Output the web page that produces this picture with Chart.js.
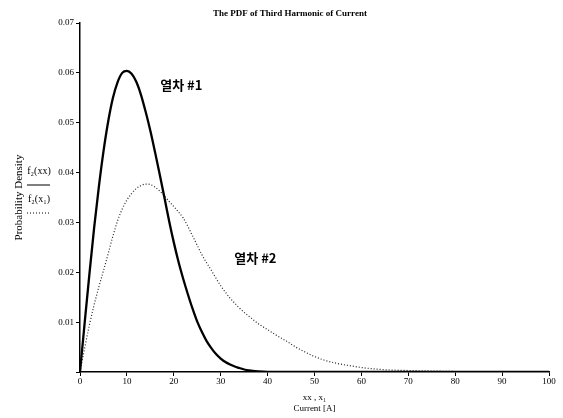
<!DOCTYPE html>
<html>
<head>
<meta charset="utf-8">
<script src="https://cdn.jsdelivr.net/npm/chart.js@4.4.1/dist/chart.umd.min.js"></script>
<style>
  body { margin: 0; background: #fff; }
  #wrap { width: 563px; height: 418px; }
</style>
</head>
<body>
<div id="wrap"><canvas id="pdfChart" width="563" height="418"></canvas></div>
<script>
// train #1 : current [A] and probability density
const train1Current = [0, 1, 2, 3, 4, 5, 6, 7, 8, 9, 10, 11, 12, 13, 14, 15, 16, 17, 18, 19, 20,
  21, 22, 23, 24, 25, 26, 27, 28, 29, 30, 31, 32, 33, 34, 35, 36, 38, 40, 50, 60, 70, 80, 90, 100];
const train1Pdf = [0, 0.0099, 0.0196, 0.0288, 0.0370, 0.0442, 0.0502, 0.0549, 0.0581, 0.0600, 0.0604,
  0.0598, 0.0582, 0.0556, 0.0522, 0.0484, 0.0441, 0.0396, 0.0350, 0.0303, 0.0260,
  0.0221, 0.0187, 0.0156, 0.0127, 0.0101, 0.0080, 0.0062, 0.0048, 0.0036, 0.0027,
  0.0020, 0.0015, 0.0011, 0.0008, 0.0005, 0.0003, 0.0001, 0, 0, 0, 0, 0, 0, 0];

// train #2
const train2Current = [0, 1, 2, 3, 4, 5, 6, 7, 8, 9, 10, 11, 12, 13, 14, 15, 16, 17, 18, 19, 20,
  21, 22, 23, 24, 25, 26, 27, 28, 29, 30, 31, 32, 33, 34, 36, 38, 40, 42, 44, 46, 48, 50, 52, 54,
  56, 58, 60, 63, 66, 70, 75, 80, 90, 100];
const train2Pdf = [0, 0.0048, 0.0094, 0.0134, 0.0170, 0.0203, 0.0237, 0.0272, 0.0303, 0.0327, 0.0345,
  0.0358, 0.0368, 0.0374, 0.0377, 0.0376, 0.0371, 0.0363, 0.0353, 0.0342, 0.0332,
  0.0321, 0.0309, 0.0292, 0.0273, 0.0254, 0.0235, 0.0219, 0.0204, 0.0188, 0.0173,
  0.0160, 0.0148, 0.0138, 0.0128, 0.0112, 0.0097, 0.0085, 0.0073, 0.0062, 0.0050, 0.0040,
  0.0031, 0.0024, 0.0019, 0.0015, 0.0012, 0.0009, 0.0006, 0.0004, 0.0003, 0.0002, 0.0001, 0, 0];

const seriesNames = ['열차 #1', '열차 #2'];
const chartTitle = 'The PDF of Third Harmonic of Current';
const xTitle = ['xx , x\u2081', 'Current [A]'];
const yTitle = 'Probability Density';
const legendKeys = ['f\u2082(xx)', 'f\u2082(x\u2081)'];

const serif = '"Liberation Serif", "DejaVu Serif", serif';

function toPoints(xs, ys) {
  return xs.map((x, i) => ({ x: x, y: ys[i] }));
}

// title, the little key on the left and the train labels next to the curves
const notes = {
  id: 'notes',
  afterDraw(chart) {
    const ctx = chart.ctx;
    const sx = chart.scales.x;
    const sy = chart.scales.y;
    ctx.save();
    ctx.fillStyle = '#000';
    ctx.textAlign = 'center';
    ctx.textBaseline = 'middle';

    ctx.font = 'bold 9px ' + serif;
    ctx.fillText(chartTitle, 290, 14);

    ctx.font = '10px ' + serif;
    ctx.fillText(legendKeys[0], 39, 171);
    ctx.fillText(legendKeys[1], 39, 199);
    ctx.strokeStyle = '#000';
    ctx.lineWidth = 1;
    ctx.beginPath();
    ctx.moveTo(27, 185);
    ctx.lineTo(50, 185);
    ctx.stroke();
    ctx.setLineDash([1, 2]);
    ctx.beginPath();
    ctx.moveTo(27, 213);
    ctx.lineTo(50, 213);
    ctx.stroke();
    ctx.setLineDash([]);

    ctx.font = 'bold 13px "Noto Sans CJK KR", sans-serif';
    ctx.fillText(seriesNames[0], sx.getPixelForValue(21.6), sy.getPixelForValue(0.0576));
    ctx.fillText(seriesNames[1], sx.getPixelForValue(37.4), sy.getPixelForValue(0.0228));
    ctx.restore();
  }
};

new Chart(document.getElementById('pdfChart'), {
  type: 'line',
  data: {
    datasets: [
      {
        label: seriesNames[0],
        data: toPoints(train1Current, train1Pdf),
        borderColor: '#000',
        borderWidth: 2.3,
        pointRadius: 0,
        cubicInterpolationMode: 'monotone',
        fill: false
      },
      {
        label: seriesNames[1],
        data: toPoints(train2Current, train2Pdf),
        borderColor: '#222',
        borderWidth: 1.2,
        borderDash: [1, 2],
        pointRadius: 0,
        cubicInterpolationMode: 'monotone',
        fill: false
      }
    ]
  },
  options: {
    responsive: false,
    animation: false,
    layout: { padding: { top: 23, right: 14, bottom: 0, left: 0 } },
    plugins: {
      legend: { display: false },
      tooltip: { enabled: false }
    },
    scales: {
      x: {
        type: 'linear',
        min: 0,
        max: 100,
        afterFit(scale) { scale.height = 46; },
        border: { color: '#000', width: 1.5 },
        grid: { drawOnChartArea: false, color: '#000', tickLength: 4 },
        ticks: { stepSize: 10, padding: 0, color: '#000', font: { family: serif, size: 9 } },
        title: {
          display: true,
          text: xTitle,
          color: '#000',
          font: { family: serif, size: 9 },
          padding: { top: 0, bottom: 4 }
        }
      },
      y: {
        min: 0,
        max: 0.07,
        afterFit(scale) { scale.width = 80; },
        border: { color: '#000', width: 1.5 },
        grid: { drawOnChartArea: false, color: '#000', tickLength: 4 },
        ticks: {
          stepSize: 0.01,
          padding: 2,
          color: '#000',
          font: { family: serif, size: 9 },
          callback: (v) => (v === 0 ? '' : v.toFixed(2))
        },
        title: {
          display: true,
          text: yTitle,
          color: '#000',
          font: { family: serif, size: 11 },
          padding: { top: 13, bottom: 0 }
        }
      }
    }
  },
  plugins: [notes]
});
</script>
</body>
</html>
